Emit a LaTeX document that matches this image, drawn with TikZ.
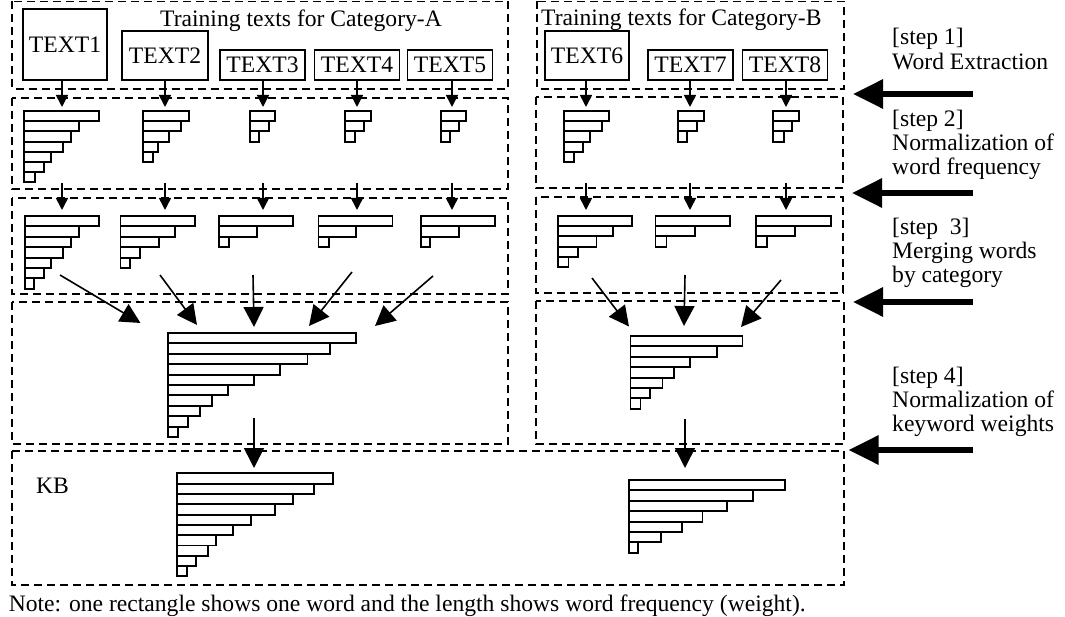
\documentclass[tikz,border=0pt]{standalone}
\usepackage{fontspec}
\setmainfont{Liberation Serif}
\usetikzlibrary{arrows.meta}
\newcommand\wordbars[4]{% left, top, bar height, widths
  \foreach \w [count=\i from 0] in {#4}{
    \draw[wbar] (#1,{#2+\i*#3}) rectangle ++(\w,#3);
  }}
\begin{document}
\begin{tikzpicture}[x=1pt,y=-1pt,
  font=\fontsize{23.6}{24}\selectfont,
  grp/.style={draw, line width=1.9pt, dash pattern=on 8pt off 5pt},
  tbox/.style={draw, line width=1.9pt, minimum width=85pt, inner sep=0pt, anchor=south},
  wbar/.style={draw, line width=1.9pt},
  sarr/.style={-{Triangle[length=12pt,width=12pt]}, line width=1.6pt},
  marr/.style={-{Triangle[length=20pt,width=20pt]}, line width=1.6pt},
  bigarr/.style={-{Triangle[length=30pt,width=28pt]}, line width=6pt},
  lbl/.style={anchor=base west, inner sep=0pt}]
\useasboundingbox (0,0) rectangle (1065,617);

% group frames
\draw[grp] (12,1.5) rectangle (508,89);
\draw[grp] (12,98) rectangle (508,189);
\draw[grp] (12,198) rectangle (508,294);
\draw[grp] (12,302) rectangle (508,444);
\draw[grp] (537,1.5) rectangle (844,89);
\draw[grp] (536,97) rectangle (843,188);
\draw[grp] (536,197) rectangle (843,293);
\draw[grp] (536,301) rectangle (844,444);
\draw[grp] (12,451) rectangle (844,585);

% titles
\node[lbl] (catA) at (160,27) {Training texts for Category-A};
\node[lbl] (catB) at (541,26) {Training texts for Category-B};

% training texts
\node[tbox, minimum width=84pt, minimum height=71pt] (t1) at (65,81) {TEXT1};
\node[tbox, minimum width=86pt, minimum height=49pt] (t2) at (165,81) {TEXT2};
\node[tbox, minimum height=30pt] (t3) at (262.5,81) {TEXT3};
\node[tbox, minimum height=30pt] (t4) at (357,81) {TEXT4};
\node[tbox, minimum height=30pt] (t5) at (450,81) {TEXT5};
\node[tbox, minimum width=84pt, minimum height=49pt] (t6) at (587,81) {TEXT6};
\node[tbox, minimum height=30pt] (t7) at (690.5,81) {TEXT7};
\node[tbox, minimum height=30pt] (t8) at (785,81) {TEXT8};

% step 1 -> step 2 arrows and step 2 -> step 3 arrows
\foreach \n/\x in {1/62,2/165,3/263,4/357,5/452,6/586,7/690,8/786}{
  \coordinate (p\n) at (\x,107);
  \draw[sarr] (t\n.south -| p\n) -- (p\n);
  \coordinate (q\n) at (\x,183);
  \coordinate (r\n) at (\x,210);
  \draw[sarr] (q\n) -- (r\n);
}

% row 2: word frequencies
\wordbars{24}{111}{10.2}{75,55,47,39,27,20,11}
\wordbars{143}{111}{10.2}{46,38,26,15,10}
\wordbars{250}{111}{10.2}{25,19,9}
\wordbars{345}{111}{10.2}{26,19,10}
\wordbars{441}{111}{10.2}{25,18,9}
\wordbars{564}{111}{10.2}{45,38,26,19,10}
\wordbars{678}{111}{10.2}{26,19,9}
\wordbars{773}{111}{10.2}{26,19,11}

% row 3: normalized
\wordbars{25}{216}{10.4}{74,54,46,38,26,19,9}
\wordbars{120.5}{216}{10.4}{74.5,54.5,38.5,19.5,9.5}
\wordbars{219}{216}{10.4}{74,38,10}
\wordbars{318.5}{216}{10.4}{74,37.5,10.5}
\wordbars{421}{216}{10.4}{74,38,9}
\wordbars{558}{216}{10.2}{74,55,38.5,20,10.5}
\wordbars{655.5}{216}{10.2}{74.5,39.5,11}
\wordbars{756}{216}{10.2}{75,38.6,10.8}

% merge arrows
\foreach \n/\xs/\ys/\xe/\ye in {1/60/275/140.5/323, 2/160/275/197/325, 3/253/275/254/327,
  4/352/272/309/326, 5/433/276/375/326, 6/592/278/629/326.5, 7/685/275/684/326, 8/781/280/741/327}{
  \coordinate (ms\n) at (\xs,\ys);
  \coordinate (me\n) at (\xe,\ye);
  \draw[marr] (ms\n) -- (me\n);
}

% row 4: merged
\wordbars{168}{333}{10.4}{188,162,139.5,112,86,60,44,32,20,10}
\wordbars{630.5}{336}{10.4}{112,86.5,59.5,43.5,32,19.5,10}

% row 4 -> KB arrows
\coordinate (ka1) at (254,418);
\coordinate (kb1) at (254,468);
\draw[marr] (ka1) -- (kb1);
\coordinate (ka2) at (685,419);
\coordinate (kb2) at (685,468);
\draw[marr] (ka2) -- (kb2);

% KB
\node[lbl] (kb) at (36,493) {KB};
\wordbars{176.6}{473.4}{10.3}{156.5,137.5,116.5,98,74,56,39.5,31.5,19.5,10}
\wordbars{629}{480}{10.4}{156,124,98,73.5,53,32,9}

% step arrows
\foreach \n/\y/\xt in {1/94/853, 2/193/852, 3/302/853, 4/450/848.5}{
  \coordinate (sa\n) at (973,\y);
  \coordinate (sb\n) at (\xt,\y);
  \draw[bigarr] (sa\n) -- (sb\n);
}

% step labels
\node[lbl] (s1a) at (892,45) {[step 1]};
\node[lbl] (s1b) at (892,70) {Word Extraction};
\node[lbl] (s2a) at (892,127) {[step 2]};
\node[lbl] (s2b) at (892,151) {Normalization of};
\node[lbl] (s2c) at (892,175) {word frequency};
\node[lbl] (s3a) at (892,235) {[step\ \ 3]};
\node[lbl] (s3b) at (892,259) {Merging words};
\node[lbl] (s3c) at (892,283) {by category};
\node[lbl] (s4a) at (892,383) {[step 4]};
\node[lbl] (s4b) at (892,407) {Normalization of};
\node[lbl] (s4c) at (892,431) {keyword weights};

% note
\node[lbl] (note) at (8.6,611) {Note: one rectangle shows one word and the length shows word frequency (weight).};
\end{tikzpicture}
\end{document}
